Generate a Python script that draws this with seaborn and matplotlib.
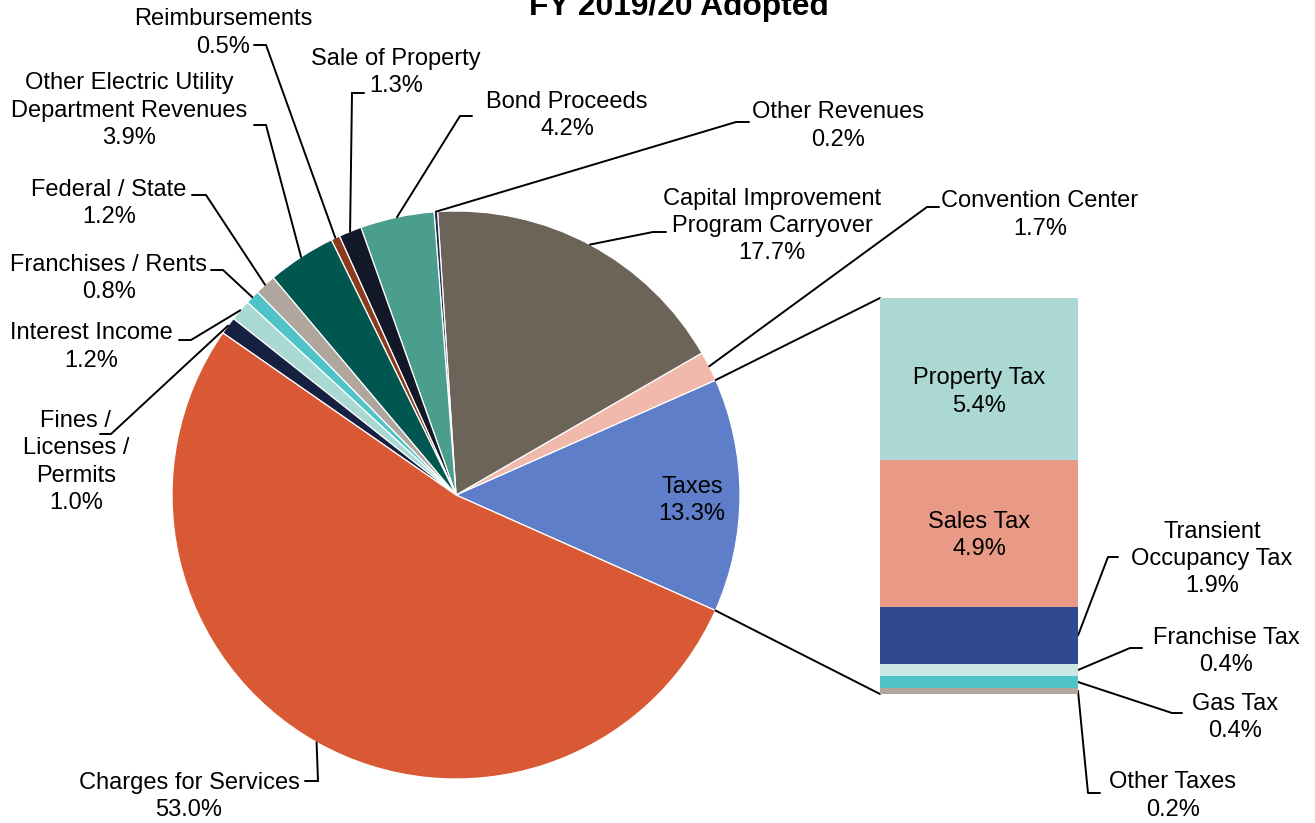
import numpy as np
import matplotlib
matplotlib.use("Agg")
import matplotlib.pyplot as plt
import seaborn as sns

# ---------------- data ----------------
pie_labels = ["Taxes", "Convention Center", "Capital Improvement\nProgram Carryover",
              "Other Revenues", "Bond Proceeds", "Sale of Property", "Reimbursements",
              "Other Electric Utility\nDepartment Revenues", "Federal / State",
              "Franchises / Rents", "Interest Income", "Fines /\nLicenses /\nPermits",
              "Charges for Services"]
pie_values = [13.3, 1.7, 17.7, 0.2, 4.2, 1.3, 0.5, 3.9, 1.2, 0.8, 1.2, 1.0, 53.0]
pie_colors = ["#5f7ec9", "#f0b9ab", "#6c6359", "#1f2b52", "#4b9e8d", "#121828",
              "#8b3a1e", "#00574f", "#b0a69e", "#4ec4c9", "#aad9d3", "#162142", "#da5935"]

tax_labels = ["Property Tax", "Sales Tax", "Transient\nOccupancy Tax",
              "Franchise Tax", "Gas Tax", "Other Taxes"]
tax_values = [5.4, 4.9, 1.9, 0.4, 0.4, 0.2]
tax_colors = ["#abd8d2", "#e99a87", "#2f4a91", "#cde8e3", "#4fc3c8", "#b0a69e"]

title = "FY 2019/20 Adopted"

# ---------------- layout ----------------
W, H = 1315, 823
DY = 2  # small vertical nudge for text blocks

def P(x, y):
    return (x, H - y)

def PT(x, y):
    return (x, H - (y + DY))

sns.set_style("white")
plt.rcParams["font.family"] = ["Liberation Sans", "DejaVu Sans"]
plt.rcParams["text.color"] = "black"
FS = 17
LS = 1.3

fig = plt.figure(figsize=(W / 100, H / 100), dpi=100)
ax = fig.add_axes([0, 0, 1, 1])

cx, cy = P(456, 495)
R = 284
start = -24.0
wedges, _ = ax.pie(pie_values, colors=pie_colors, startangle=start, counterclock=True,
                   radius=R, center=(cx, cy),
                   wedgeprops=dict(edgecolor="white", linewidth=0.9))
ax.set_xlim(0, W)
ax.set_ylim(0, H)
ax.set_aspect("auto")
ax.axis("off")

total = sum(pie_values)
angles = []
a = start
for v in pie_values:
    span = v / total * 360
    angles.append((a, a + span))
    a += span

def edge_pt(theta):
    t = np.deg2rad(theta)
    return (cx + R * np.cos(t), cy + R * np.sin(t))

# label positions (text center px) and leader elbow/end points (px)
pie_layout = {
    "Reimbursements": ((223, 31), (266, 45), (254, 45)),
    "Sale of Property": ((396, 70.5), (352, 93), (364, 93)),
    "Other Electric Utility\nDepartment Revenues": ((129, 108.5), (266, 125), (254, 125)),
    "Federal / State": ((109, 201.5), (206, 195), (192, 195)),
    "Franchises / Rents": ((109, 276.5), (223, 270), (211, 270)),
    "Interest Income": ((91, 345), (191, 340), (179, 340)),
    "Fines /\nLicenses /\nPermits": ((76, 460), (111, 434), (100, 434)),
    "Charges for Services": ((189, 794.5), (318, 781), (305, 781)),
    "Bond Proceeds": ((567, 113.5), (460, 116), (472, 116)),
    "Other Revenues": ((838, 124), (736, 122), (749, 122)),
    "Capital Improvement\nProgram Carryover": ((772, 224), (653, 232), (666, 232)),
    "Convention Center": ((1040, 213), (927, 207), (939, 207)),
}

for lab, v, (a0, a1) in zip(pie_labels, pie_values, angles):
    txt = f"{lab}\n{v:.1f}%"
    if lab == "Taxes":
        ax.text(*PT(692, 498.5), txt, ha="center", va="center", fontsize=FS, linespacing=LS)
        continue
    (tx, ty), elbow, end = pie_layout[lab]
    ax.text(*PT(tx, ty), txt, ha="center", va="center", fontsize=FS, linespacing=LS)
    p0 = edge_pt((a0 + a1) / 2)
    e = P(*elbow)
    n = P(*end)
    ax.plot([p0[0], e[0], n[0]], [p0[1], e[1], n[1]], color="black", lw=1.4,
            solid_joinstyle="miter")

ax.text(*P(679, 15), title, ha="center", va="baseline", fontsize=22.9, weight="bold")

# ---------------- bar of pie ----------------
bx0, bx1, by0, by1 = 880, 1078, 298, 694
bax = fig.add_axes([bx0 / W, (H - by1) / H, (bx1 - bx0) / W, (by1 - by0) / H])
tax_total = sum(tax_values)
bottoms = []
b = tax_total
for v in tax_values:
    b -= v
    bottoms.append(b)
for v, bt, c in zip(tax_values, bottoms, tax_colors):
    sns.barplot(x=["Taxes"], y=[v], bottom=bt, color=c, saturation=1, width=1,
                errorbar=None, linewidth=0, ax=bax)
bax.set_xlim(-0.5, 0.5)
bax.set_ylim(0, tax_total)
bax.axis("off")

def bar_to_main(xb, yb):
    d = bax.transData.transform((xb, yb))
    return ax.transData.inverted().transform(d)

bar_layout = {
    "Property Tax": ((979, 390), None, None),
    "Sales Tax": ((979, 533.5), None, None),
    "Transient\nOccupancy Tax": ((1212, 557), (1108, 557), (1118, 557)),
    "Franchise Tax": ((1226, 649.5), (1130, 648), (1142, 648)),
    "Gas Tax": ((1235, 715.5), (1172, 713), (1182, 713)),
    "Other Taxes": ((1173, 794), (1088, 793), (1100, 793)),
}
for lab, v, bt in zip(tax_labels, tax_values, bottoms):
    txt = f"{lab}\n{v:.1f}%"
    mid = bt + v / 2
    (tx, ty), elbow, end = bar_layout[lab]
    if elbow is None:
        bax.text(*PT(tx, ty), txt, transform=ax.transData, ha="center", va="center",
                 fontsize=FS, linespacing=LS, color="black")
    else:
        ax.text(*PT(tx, ty), txt, ha="center", va="center", fontsize=FS, linespacing=LS)
        p0 = bar_to_main(0.5, mid)
        e = P(*elbow)
        n = P(*end)
        ax.plot([p0[0], e[0], n[0]], [p0[1], e[1], n[1]], color="black", lw=1.4)

# connectors between Taxes wedge and bar
ta0, ta1 = angles[0]
top_corner = bar_to_main(-0.5, tax_total)
bot_corner = bar_to_main(-0.5, 0)
p_top = edge_pt(ta1)
p_bot = edge_pt(ta0)
ax.plot([p_top[0], top_corner[0]], [p_top[1], top_corner[1]], color="black", lw=1.4)
ax.plot([p_bot[0], bot_corner[0]], [p_bot[1], bot_corner[1]], color="black", lw=1.4)

fig.savefig("out.png", dpi=100)
